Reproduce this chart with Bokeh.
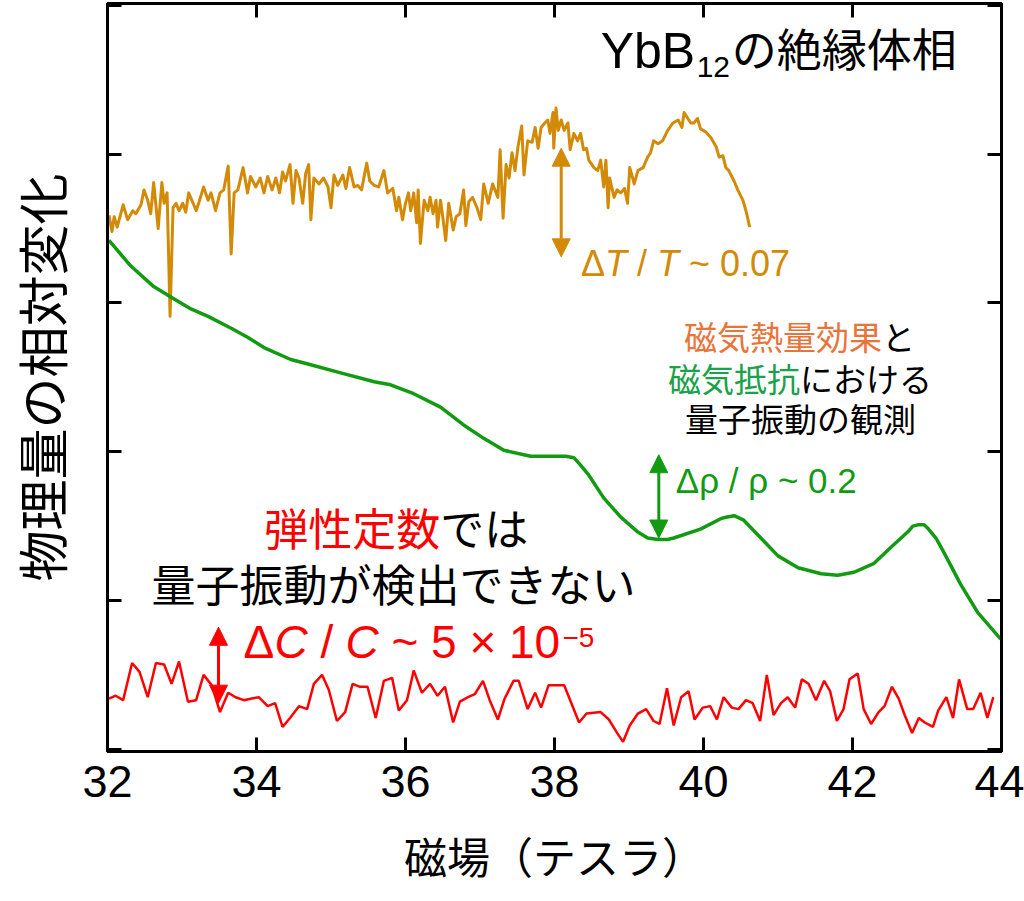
from bokeh.plotting import figure
from bokeh.models import LinearAxis, FixedTicker, Range1d, Label, Arrow, NormalHead
from bokeh.embed import file_html
from bokeh.resources import INLINE

# ---------------- data ----------------
x_ticks = [32, 34, 36, 38, 40, 42, 44]
y_ticks = [0, 1, 2, 3, 4, 5]

# magnetocaloric effect (relative temperature change, arb. offset)
mce_field = [32.02, 32.06, 32.09, 32.13, 32.21, 32.27, 32.34, 32.38, 32.45, 32.49, 32.54, 32.58,
             32.62, 32.68, 32.73, 32.76, 32.80, 32.84, 32.88, 32.92, 32.96, 33.01, 33.05, 33.09,
             33.15, 33.19, 33.23, 33.29, 33.35, 33.39, 33.45, 33.51, 33.56, 33.62, 33.66, 33.70,
             33.75, 33.82, 33.88, 33.92, 33.99, 34.05, 34.10, 34.15, 34.21, 34.26, 34.31, 34.35,
             34.39, 34.45, 34.49, 34.53, 34.57, 34.62, 34.66, 34.70, 34.73, 34.77, 34.84, 34.90,
             34.96, 35.00, 35.04, 35.09, 35.16, 35.20, 35.25, 35.31, 35.36, 35.41, 35.48, 35.52,
             35.58, 35.64, 35.71, 35.76, 35.83, 35.88, 35.91, 35.96, 36.00, 36.04, 36.07, 36.11,
             36.15, 36.17, 36.20, 36.25, 36.30, 36.33, 36.37, 36.41, 36.43, 36.47, 36.50, 36.54,
             36.58, 36.64, 36.68, 36.73, 36.78, 36.81, 36.85, 36.90, 36.96, 37.01, 37.05, 37.11,
             37.17, 37.24, 37.27, 37.31, 37.35, 37.39, 37.43, 37.47, 37.51, 37.56, 37.59, 37.64,
             37.70, 37.74, 37.78, 37.82, 37.87, 37.91, 37.94, 37.98, 37.99, 38.02, 38.05, 38.09,
             38.13, 38.18, 38.21, 38.26, 38.31, 38.35, 38.39, 38.43, 38.46, 38.53, 38.58, 38.62,
             38.66, 38.69, 38.72, 38.74, 38.80, 38.84, 38.89, 38.94, 38.98, 39.01, 39.07, 39.12,
             39.19, 39.25, 39.29, 39.33, 39.39, 39.45, 39.52, 39.59, 39.66, 39.71, 39.74, 39.79,
             39.83, 39.87, 39.92, 39.96, 40.03, 40.10, 40.17, 40.21, 40.26, 40.30, 40.34, 40.41,
             40.46, 40.53, 40.58, 40.62]
mce_value = [3.59, 3.48, 3.58, 3.51, 3.66, 3.56, 3.62, 3.60, 3.66, 3.76, 3.69, 3.60,
             3.81, 3.50, 3.81, 3.67, 3.74, 2.91, 3.64, 3.67, 3.62, 3.67, 3.61, 3.74,
             3.67, 3.62, 3.68, 3.78, 3.69, 3.74, 3.62, 3.74, 3.76, 3.92, 3.33, 3.74,
             3.76, 3.91, 3.74, 3.85, 3.78, 3.84, 3.74, 3.85, 3.76, 3.84, 3.74, 3.88,
             3.82, 3.93, 3.67, 3.89, 3.84, 3.67, 3.87, 3.93, 3.56, 3.84, 3.80, 3.84,
             3.78, 3.64, 3.86, 3.79, 3.86, 3.77, 3.91, 3.78, 3.79, 3.76, 3.94, 3.82,
             3.79, 3.78, 3.89, 3.74, 3.77, 3.62, 3.71, 3.56, 3.67, 3.74, 3.62, 3.74,
             3.54, 3.76, 3.40, 3.69, 3.62, 3.71, 3.60, 3.69, 3.51, 3.69, 3.58, 3.42,
             3.67, 3.49, 3.58, 3.60, 3.76, 3.52, 3.68, 3.71, 3.64, 3.56, 3.80, 3.67,
             3.80, 3.71, 4.03, 3.57, 3.93, 3.84, 4.01, 3.89, 4.05, 4.19, 3.86, 4.09,
             4.08, 4.18, 4.04, 4.18, 4.21, 4.23, 4.14, 4.28, 4.04, 4.31, 4.16, 4.23,
             4.16, 4.21, 4.03, 4.14, 4.09, 4.14, 4.03, 4.04, 3.96, 3.91, 3.89, 3.96,
             3.78, 3.96, 3.64, 3.84, 3.71, 3.76, 3.74, 3.77, 3.67, 3.91, 3.80, 3.89,
             3.91, 3.98, 4.01, 4.09, 4.07, 4.09, 4.16, 4.21, 4.23, 4.18, 4.28, 4.24,
             4.21, 4.21, 4.24, 4.17, 4.15, 4.11, 4.05, 3.98, 3.99, 3.91, 3.89, 3.82,
             3.76, 3.69, 3.60, 3.51]

# magnetoresistance (relative resistivity change, arb. offset)
mr_field = [32.02, 32.31, 32.62, 32.85, 33.12, 33.35, 33.66, 33.88, 34.10, 34.46, 34.69, 35.13,
            35.58, 35.80, 36.11, 36.47, 36.78, 37.05, 37.32, 37.68, 38.09, 38.15, 38.26, 38.35,
            38.45, 38.66, 38.89, 39.12, 39.25, 39.39, 39.52, 39.60, 39.96, 40.23, 40.30, 40.41,
            40.54, 40.77, 41.00, 41.27, 41.58, 41.80, 42.02, 42.29, 42.52, 42.74, 42.81, 42.89,
            42.96, 43.02, 43.12, 43.23, 43.45, 43.68, 43.99]
mr_value = [3.42, 3.25, 3.11, 3.04, 2.96, 2.91, 2.83, 2.77, 2.70, 2.62, 2.59, 2.53,
            2.47, 2.45, 2.39, 2.30, 2.18, 2.09, 2.01, 1.97, 1.97, 1.97, 1.96, 1.91,
            1.85, 1.69, 1.56, 1.46, 1.42, 1.41, 1.41, 1.42, 1.48, 1.55, 1.56, 1.57,
            1.54, 1.42, 1.30, 1.22, 1.18, 1.17, 1.19, 1.25, 1.36, 1.46, 1.50, 1.51,
            1.51, 1.48, 1.42, 1.32, 1.11, 0.92, 0.74]

# elastic constant (relative change, arb. offset)
el_field = [32.02, 32.11, 32.21, 32.33, 32.43, 32.54, 32.65, 32.76, 32.86, 32.96, 33.08, 33.19,
            33.29, 33.40, 33.51, 33.62, 33.72, 33.83, 33.92, 34.03, 34.15, 34.25, 34.35, 34.45,
            34.57, 34.68, 34.77, 34.88, 34.97, 35.08, 35.19, 35.29, 35.39, 35.49, 35.60, 35.71,
            35.82, 35.91, 36.02, 36.11, 36.22, 36.33, 36.43, 36.53, 36.64, 36.73, 36.84, 36.93,
            37.04, 37.13, 37.24, 37.33, 37.45, 37.52, 37.64, 37.74, 37.82, 37.92, 38.13, 38.33,
            38.43, 38.62, 38.73, 38.84, 38.92, 39.01, 39.12, 39.23, 39.33, 39.41, 39.51, 39.60,
            39.70, 39.80, 39.88, 39.99, 40.09, 40.18, 40.27, 40.38, 40.47, 40.57, 40.66, 40.76,
            40.85, 40.94, 41.04, 41.13, 41.23, 41.32, 41.41, 41.51, 41.62, 41.70, 41.79, 41.88,
            41.96, 42.07, 42.15, 42.25, 42.35, 42.43, 42.53, 42.62, 42.70, 42.80, 42.89, 42.97,
            43.08, 43.15, 43.26, 43.35, 43.43, 43.54, 43.62, 43.72, 43.81, 43.89]
el_value = [0.34, 0.36, 0.33, 0.58, 0.52, 0.35, 0.58, 0.57, 0.44, 0.59, 0.32, 0.33,
            0.50, 0.43, 0.25, 0.38, 0.35, 0.33, 0.34, 0.35, 0.29, 0.31, 0.15, 0.21,
            0.29, 0.27, 0.44, 0.50, 0.40, 0.19, 0.25, 0.44, 0.42, 0.42, 0.21, 0.46,
            0.48, 0.26, 0.33, 0.53, 0.38, 0.44, 0.36, 0.42, 0.18, 0.32, 0.35, 0.37,
            0.46, 0.33, 0.20, 0.34, 0.46, 0.46, 0.27, 0.38, 0.28, 0.43, 0.43, 0.18,
            0.24, 0.25, 0.20, 0.11, 0.05, 0.16, 0.24, 0.27, 0.19, 0.17, 0.41, 0.16,
            0.35, 0.39, 0.20, 0.28, 0.29, 0.20, 0.35, 0.28, 0.27, 0.33, 0.31, 0.19,
            0.50, 0.23, 0.31, 0.35, 0.28, 0.47, 0.44, 0.33, 0.46, 0.39, 0.19, 0.27,
            0.47, 0.51, 0.27, 0.17, 0.25, 0.29, 0.42, 0.34, 0.23, 0.11, 0.21, 0.18,
            0.15, 0.26, 0.35, 0.21, 0.47, 0.27, 0.27, 0.38, 0.21, 0.35]

# double-arrow amplitude markers: (field, low, high)
mce_bar = (38.09, 3.31, 4.04)
mr_bar = (39.40, 1.42, 1.98)
el_bar = (33.49, 0.31, 0.82)

ORANGE = "#D38A07"
GREEN = "#139A13"
RED = "#FF0000"
TXT_ORANGE = "#E8743B"
TXT_GREEN = "#1AA14A"
LATIN = "Liberation Sans"
CJK = "Noto Sans CJK JP"

# ---------------- figure ----------------
p = figure(width=1024, height=901, x_range=Range1d(32, 44), y_range=Range1d(-0.015, 5.013),
           output_backend="svg", toolbar_location=None,
           min_border_left=106, min_border_right=23, min_border_top=3, min_border_bottom=150)
p.background_fill_color = "white"
p.border_fill_color = "white"
p.outline_line_color = "black"
p.outline_line_width = 3
p.xgrid.visible = False
p.ygrid.visible = False

xa = p.xaxis[0]
xa.ticker = FixedTicker(ticks=x_ticks)
xa.axis_line_width = 3
xa.major_tick_line_width = 3
xa.major_tick_in = 14
xa.major_tick_out = 0
xa.minor_tick_line_color = None
xa.major_label_text_font = LATIN
xa.major_label_text_font_size = "45px"
xa.major_label_text_color = "black"
xa.major_label_standoff = 14
xa.axis_label = "磁場（テスラ）"
xa.axis_label_text_font = CJK
xa.axis_label_text_font_size = "43px"
xa.axis_label_text_font_style = "normal"
xa.axis_label_text_color = "black"
xa.axis_label_standoff = 24

ya = p.yaxis[0]
ya.ticker = FixedTicker(ticks=y_ticks)
ya.major_label_overrides = {t: "" for t in y_ticks}
ya.axis_line_width = 3
ya.major_tick_line_width = 3
ya.major_tick_in = 14
ya.major_tick_out = 0
ya.minor_tick_line_color = None
ya.major_label_standoff = 0
ya.axis_label = "物理量の相対変化"
ya.axis_label_text_font = CJK
ya.axis_label_text_font_size = "51px"
ya.axis_label_text_font_style = "normal"
ya.axis_label_text_color = "black"
ya.axis_label_standoff = 30

for ticks, side in ((x_ticks, "above"), (y_ticks, "right")):
    ax = LinearAxis(ticker=FixedTicker(ticks=ticks), axis_line_width=3, major_tick_line_width=3,
                    major_tick_in=14, major_tick_out=0, minor_tick_line_color=None,
                    major_label_overrides={t: "" for t in ticks}, major_label_standoff=0,
                    major_label_text_font_size="1px")
    p.add_layout(ax, side)

# ---------------- curves ----------------
p.line(mce_field, mce_value, line_color=ORANGE, line_width=3, line_join="round")
p.line(mr_field, mr_value, line_color=GREEN, line_width=3.5, line_join="round")
p.line(el_field, el_value, line_color=RED, line_width=2.5)

for (bx, lo, hi), c in ((mce_bar, ORANGE), (mr_bar, GREEN), (el_bar, RED)):
    p.add_layout(Arrow(x_start=bx, y_start=lo, x_end=bx, y_end=hi, line_color=c, line_width=3,
                       start=NormalHead(size=18, fill_color=c, line_color=c, line_width=1),
                       end=NormalHead(size=18, fill_color=c, line_color=c, line_width=1)))


def pieces(x, y, items):
    """Place text pieces left-aligned on a common vertical centre, offset in pixels."""
    for text, color, font, size, style, dx in items:
        p.add_layout(Label(x=x, y=y, text=text, text_color=color, text_font=font,
                           text_font_size=size, text_font_style=style, x_offset=dx,
                           text_align="left", text_baseline="middle"))


# title  YbB12の絶縁体相
pieces(38.620, 4.697, [("YbB", "black", LATIN, "50px", "normal", 0)])
pieces(38.620, 4.586, [("12", "black", LATIN, "30px", "normal", 96)])
pieces(38.620, 4.714, [("の絶縁体相", "black", CJK, "45px", "normal", 131)])

# ΔT / T ~ 0.07
pieces(38.356, 3.262, [("Δ", ORANGE, LATIN, "36px", "normal", 0),
                       ("T", ORANGE, LATIN, "36px", "italic", 24),
                       ("/", ORANGE, LATIN, "36px", "normal", 56),
                       ("T", ORANGE, LATIN, "36px", "italic", 76),
                       ("~ 0.07", ORANGE, LATIN, "36px", "normal", 108)])

# Δρ / ρ ~ 0.2
pieces(39.629, 1.810, [("Δρ / ρ ~ 0.2", GREEN, LATIN, "35px", "normal", 0)])

# ΔC / C ~ 5 × 10^-5
pieces(33.824, 0.721, [("Δ", RED, LATIN, "46px", "normal", 0),
                       ("C", RED, LATIN, "46px", "italic", 31),
                       ("/", RED, LATIN, "46px", "normal", 77),
                       ("C", RED, LATIN, "46px", "italic", 102),
                       ("~ 5 × 10", RED, LATIN, "46px", "normal", 148)])
pieces(33.824, 0.751, [("−5", RED, LATIN, "28px", "normal", 319)])

# left annotation
pieces(34.105, 1.494, [("弾性定数", RED, CJK, "44px", "normal", 0),
                       ("では", "black", CJK, "44px", "normal", 176)])
pieces(32.590, 1.118, [("量子振動が検出できない", "black", CJK, "44px", "normal", 0)])

# right annotation
pieces(39.737, 2.775, [("磁気熱量効果", TXT_ORANGE, CJK, "33px", "normal", 0),
                       ("と", "black", CJK, "33px", "normal", 198)])
pieces(39.522, 2.499, [("磁気抵抗", TXT_GREEN, CJK, "33px", "normal", 0),
                       ("における", "black", CJK, "33px", "normal", 132)])
pieces(39.750, 2.230, [("量子振動の観測", "black", CJK, "33px", "normal", 0)])

open("out.html", "w").write(file_html(p, INLINE))
